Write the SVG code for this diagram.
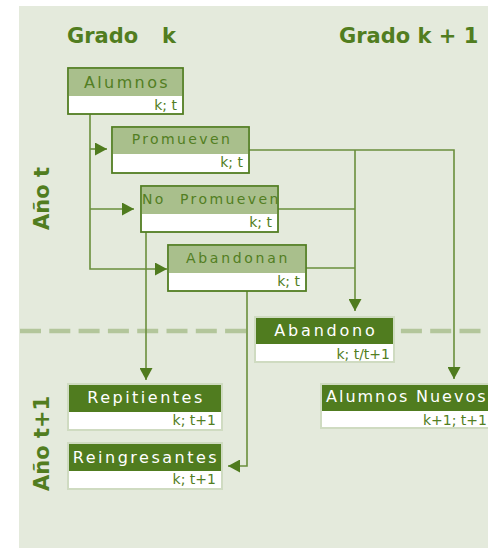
<svg xmlns="http://www.w3.org/2000/svg" width="488" height="548" viewBox="0 0 488 548">
<style>
.title{font-family:"DejaVu Sans",sans-serif;font-weight:bold;font-size:21px;fill:#517d20}
.conn{fill:none;stroke:#6a8f3c;stroke-width:1.6}
.lbox{fill:#ffffff;stroke:#527e22;stroke-width:1.8}
.lhead{fill:#a9bf8c}
.ltxt{font-family:"DejaVu Sans",sans-serif;font-size:14px;fill:#527e22;letter-spacing:2.4px;text-anchor:middle}
.dbox{fill:#ffffff;stroke:#cfdbc1;stroke-width:2}
.dhead{fill:#507c1f}
.dtxt{font-family:"DejaVu Sans",sans-serif;font-size:16px;fill:#ffffff;letter-spacing:2.5px;text-anchor:middle}
.sub{font-family:"DejaVu Sans",sans-serif;font-size:14px;fill:#527e22;text-anchor:end}
</style>
<defs>
<marker id="arr" markerUnits="userSpaceOnUse" markerWidth="13" markerHeight="13" refX="12" refY="6.5" orient="auto" viewBox="0 0 13 13">
<path d="M0,0 L12,6.5 L0,13 z" fill="#4f7b1e"/>
</marker>
</defs>
<rect x="19" y="6" width="469" height="542" fill="#e4eadc"/>
<line x1="20" y1="331" x2="488" y2="331" stroke="#b3c69b" stroke-width="4.5" stroke-dasharray="21,8.3"/>
<text class="title" x="67" y="43">Grado<tspan x="162">k</tspan></text>
<text class="title" x="339" y="43">Grado k + 1</text>
<text class="title" transform="translate(49,230) rotate(-90)">Año t</text>
<text class="title" transform="translate(49,491) rotate(-90)">Año t+1</text>
<g id="connectors">
<path class="conn" d="M90,114 V269 H167" marker-end="url(#arr)"/>
<path class="conn" d="M90,149 H107" marker-end="url(#arr)"/>
<path class="conn" d="M90,209 H134" marker-end="url(#arr)"/>
<path class="conn" d="M249,150 H454 V379" marker-end="url(#arr)"/>
<path class="conn" d="M355,150 V311" marker-end="url(#arr)"/>
<path class="conn" d="M278,209 H355"/>
<path class="conn" d="M306,268 H355"/>
<path class="conn" d="M146,232 V380" marker-end="url(#arr)"/>
<path class="conn" d="M247,291 V466 H228" marker-end="url(#arr)"/>
</g>
<g id="alumnos">
<rect class="lbox" x="68" y="68" width="115" height="46"/>
<rect class="lhead" x="69" y="69" width="113" height="27"/>
<text class="ltxt" x="127" y="88" style="font-size:16px">Alumnos</text>
<text class="sub" x="177" y="110">k; t</text>
</g>
<g id="promueven">
<rect class="lbox" x="112" y="127" width="137" height="46"/>
<rect class="lhead" x="113" y="128" width="135" height="26"/>
<text class="ltxt" x="182" y="144">Promueven</text>
<text class="sub" x="243" y="167">k; t</text>
</g>
<g id="no-promueven">
<rect class="lbox" x="141" y="186" width="137" height="46"/>
<rect class="lhead" x="142" y="187" width="135" height="27"/>
<text class="ltxt" x="142" y="204" style="text-anchor:start">No<tspan x="180">Promueven</tspan></text>
<text class="sub" x="272" y="227">k; t</text>
</g>
<g id="abandonan">
<rect class="lbox" x="168" y="245" width="138" height="46"/>
<rect class="lhead" x="169" y="246" width="136" height="27"/>
<text class="ltxt" x="238" y="263" style="letter-spacing:2.7px">Abandonan</text>
<text class="sub" x="300" y="286">k; t</text>
</g>
<g id="abandono">
<rect class="dbox" x="255" y="317" width="139" height="45"/>
<rect class="dhead" x="256" y="318" width="137" height="26"/>
<text class="dtxt" x="326" y="336" style="letter-spacing:2.8px">Abandono</text>
<text class="sub" x="390" y="359">k; t/t+1</text>
</g>
<g id="repitientes">
<rect class="dbox" x="68" y="384" width="154" height="46"/>
<rect class="dhead" x="69" y="385" width="152" height="27"/>
<text class="dtxt" x="146" y="403">Repitientes</text>
<text class="sub" x="216" y="425">k; t+1</text>
</g>
<g id="reingresantes">
<rect class="dbox" x="68" y="443" width="154" height="46"/>
<rect class="dhead" x="69" y="444" width="152" height="27"/>
<text class="dtxt" x="146" y="463">Reingresantes</text>
<text class="sub" x="216" y="484">k; t+1</text>
</g>
<g id="alumnos-nuevos">
<rect class="dbox" x="321" y="384" width="176" height="44"/>
<rect class="dhead" x="322" y="385" width="174" height="26"/>
<text class="dtxt" x="326" y="402" style="text-anchor:start;letter-spacing:2px">Alumnos<tspan x="416">Nuevos</tspan></text>
<text class="sub" x="487" y="425">k+1; t+1</text>
</g>
</svg>
